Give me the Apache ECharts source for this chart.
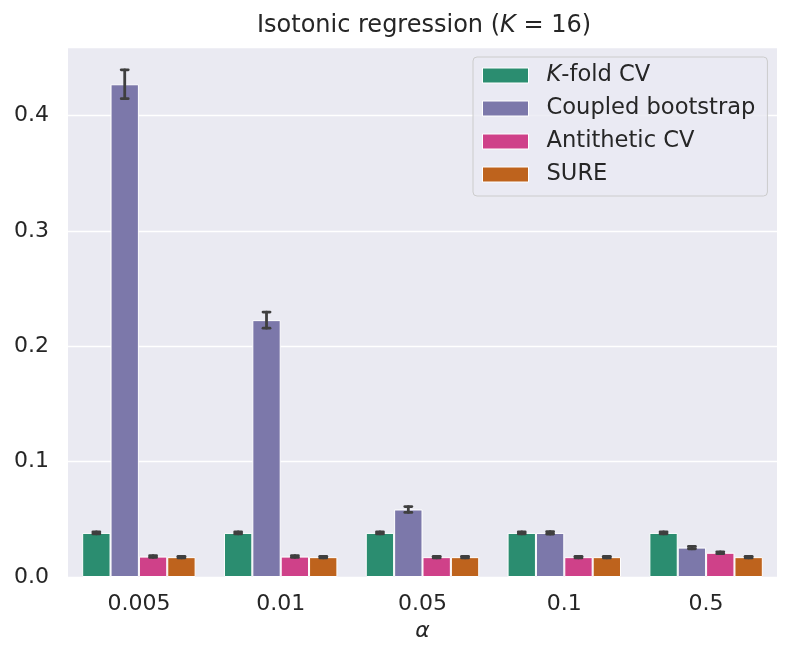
<!DOCTYPE html>
<html>
<head>
<meta charset="utf-8">
<script src="https://cdn.jsdelivr.net/npm/echarts@6/dist/echarts.min.js"></script>
<style>html,body{margin:0;padding:0;background:#fff}#c{width:793px;height:660px}</style>
</head>
<body>
<div id="c"></div>
<script>
const categories = ['0.005', '0.01', '0.05', '0.1', '0.5'];
const seriesNames = ['K-fold CV', 'Coupled bootstrap', 'Antithetic CV', 'SURE'];
const kfold      = [0.0382, 0.0382, 0.0382, 0.0382, 0.0382];
const coupled    = [0.4270, 0.2226, 0.0585, 0.0382, 0.0255];
const antithetic = [0.0177, 0.0177, 0.0172, 0.0172, 0.0210];
const sure       = [0.0172, 0.0172, 0.0172, 0.0172, 0.0172];
const kfoldErr      = [0.0009, 0.0009, 0.0009, 0.0009, 0.0009];
const coupledErr    = [0.0125, 0.0070, 0.0025, 0.0010, 0.0010];
const antitheticErr = [0.0007, 0.0007, 0.0007, 0.0007, 0.0008];
const sureErr       = [0.0007, 0.0007, 0.0007, 0.0007, 0.0007];
const yTicks = [0.0, 0.1, 0.2, 0.3, 0.4];

const values = [kfold, coupled, antithetic, sure];
const errs = [kfoldErr, coupledErr, antitheticErr, sureErr];
const colors = ['#2b8d70', '#7c78aa', '#cf4189', '#be631d'];
const font = 'DejaVu Sans';
const tickSize = 22;
const legendSize = 22.6;

const chart = echarts.init(document.getElementById('c'), null, {renderer: 'canvas'});

const barSeries = seriesNames.map((n, i) => ({
  name: n, type: 'bar', data: values[i],
  barCategoryGap: '20%', barGap: '0%',
  itemStyle: {color: colors[i], borderColor: '#ffffff', borderWidth: 1},
  z: 2
}));

const errData = [];
values.forEach((arr, s) => arr.forEach((v, c) => errData.push([c, v - errs[s][c], v + errs[s][c], s])));

const errSeries = {
  type: 'custom', name: 'err', data: errData, z: 5, silent: true,
  encode: {x: 0, y: [1, 2]},
  renderItem: function (params, api) {
    const c = api.value(0), s = api.value(3);
    const lo = api.coord([c, api.value(1)]);
    const hi = api.coord([c, api.value(2)]);
    const band = api.size([1, 0])[0];
    const bw = band * 0.8 / 4;
    const x = lo[0] - band * 0.4 + bw * (s + 0.5);
    const cap = 3.5;
    const st = {stroke: '#3f3f3f', lineWidth: 2.8, lineCap: 'round'};
    return {type: 'group', children: [
      {type: 'line', shape: {x1: x, y1: lo[1], x2: x, y2: hi[1]}, style: st},
      {type: 'line', shape: {x1: x - cap, y1: lo[1], x2: x + cap, y2: lo[1]}, style: st},
      {type: 'line', shape: {x1: x - cap, y1: hi[1], x2: x + cap, y2: hi[1]}, style: st}
    ]};
  }
};

chart.setOption({
  animation: false,
  backgroundColor: '#ffffff',
  textStyle: {fontFamily: font},
  title: {
    text: 'Isotonic regression ({i|K} = 16)',
    left: 419, top: 9, textAlign: 'center',
    textStyle: {fontFamily: font, fontSize: 24, fontWeight: 'normal', color: '#262626',
      rich: {i: {fontFamily: font, fontSize: 24, fontStyle: 'italic', color: '#262626'}}}
  },
  legend: {
    orient: 'vertical', left: 473, top: 57,
    data: seriesNames,
    itemWidth: 46, itemHeight: 15, itemGap: 10,
    padding: [7, 12, 10, 9],
    backgroundColor: 'rgba(234,234,242,0.8)',
    borderColor: '#cccccc', borderWidth: 1, borderRadius: 4,
    icon: 'rect',
    itemStyle: {borderColor: '#ffffff', borderWidth: 1},
    formatter: n => n === 'K-fold CV' ? '{i|K}-fold CV' : n,
    textStyle: {fontFamily: font, fontSize: legendSize, color: '#262626', padding: [0, 0, 0, 13],
      rich: {i: {fontFamily: font, fontSize: legendSize, fontStyle: 'italic', color: '#262626'}}}
  },
  grid: {left: 68, right: 16, top: 47, bottom: 83, show: true, backgroundColor: '#eaeaf2', borderWidth: 0},
  xAxis: {
    type: 'category', data: categories,
    axisLine: {show: false}, axisTick: {show: false},
    axisLabel: {fontFamily: font, fontSize: tickSize, color: '#262626', margin: 16},
    name: 'α', nameLocation: 'middle', nameGap: 43,
    nameTextStyle: {fontFamily: font, fontSize: tickSize, fontStyle: 'italic', color: '#262626'}
  },
  yAxis: {
    type: 'value', min: 0, max: 0.4593, interval: 0.1,
    axisLine: {show: false}, axisTick: {show: false},
    axisLabel: {fontFamily: font, fontSize: tickSize, color: '#262626', margin: 19,
      formatter: v => yTicks.some(t => Math.abs(t - v) < 1e-9) ? v.toFixed(1) : ''},
    splitLine: {lineStyle: {color: '#ffffff', width: 1.3}}
  },
  series: [...barSeries, errSeries]
});
</script>
</body>
</html>
